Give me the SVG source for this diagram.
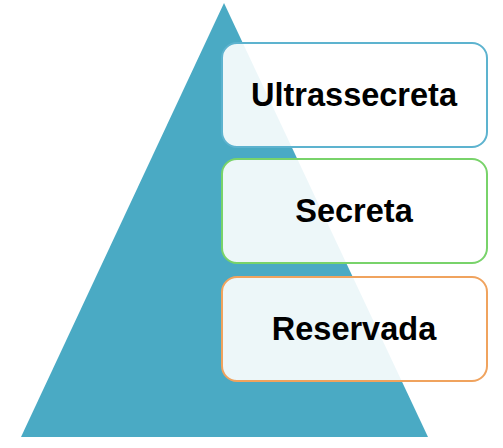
<svg xmlns="http://www.w3.org/2000/svg" width="503" height="448" viewBox="0 0 503 448">
<style>
.box{fill:#ffffff;fill-opacity:0.9;stroke-width:2}
.lbl{font-family:"Liberation Sans",Arial,sans-serif;font-weight:bold;font-size:32.5px;fill:#000;text-anchor:middle}
</style>
<rect width="503" height="448" fill="#ffffff"/>
<g id="pyramid"><polygon points="224,3 428,437 21,437" fill="#4aaac4"/></g>
<g id="connectors"></g>
<g id="ultrassecreta">
<rect class="box" x="222" y="43" width="265" height="104" rx="15" stroke="#5db3cf"/>
<text class="lbl" x="354" y="106">Ultrassecreta</text>
</g>
<g id="secreta">
<rect class="box" x="222" y="159" width="265" height="104" rx="15" stroke="#78d36a"/>
<text class="lbl" x="354" y="222">Secreta</text>
</g>
<g id="reservada">
<rect class="box" x="222" y="277" width="265" height="104" rx="15" stroke="#f0a35e"/>
<text class="lbl" x="354" y="340">Reservada</text>
</g>
</svg>
